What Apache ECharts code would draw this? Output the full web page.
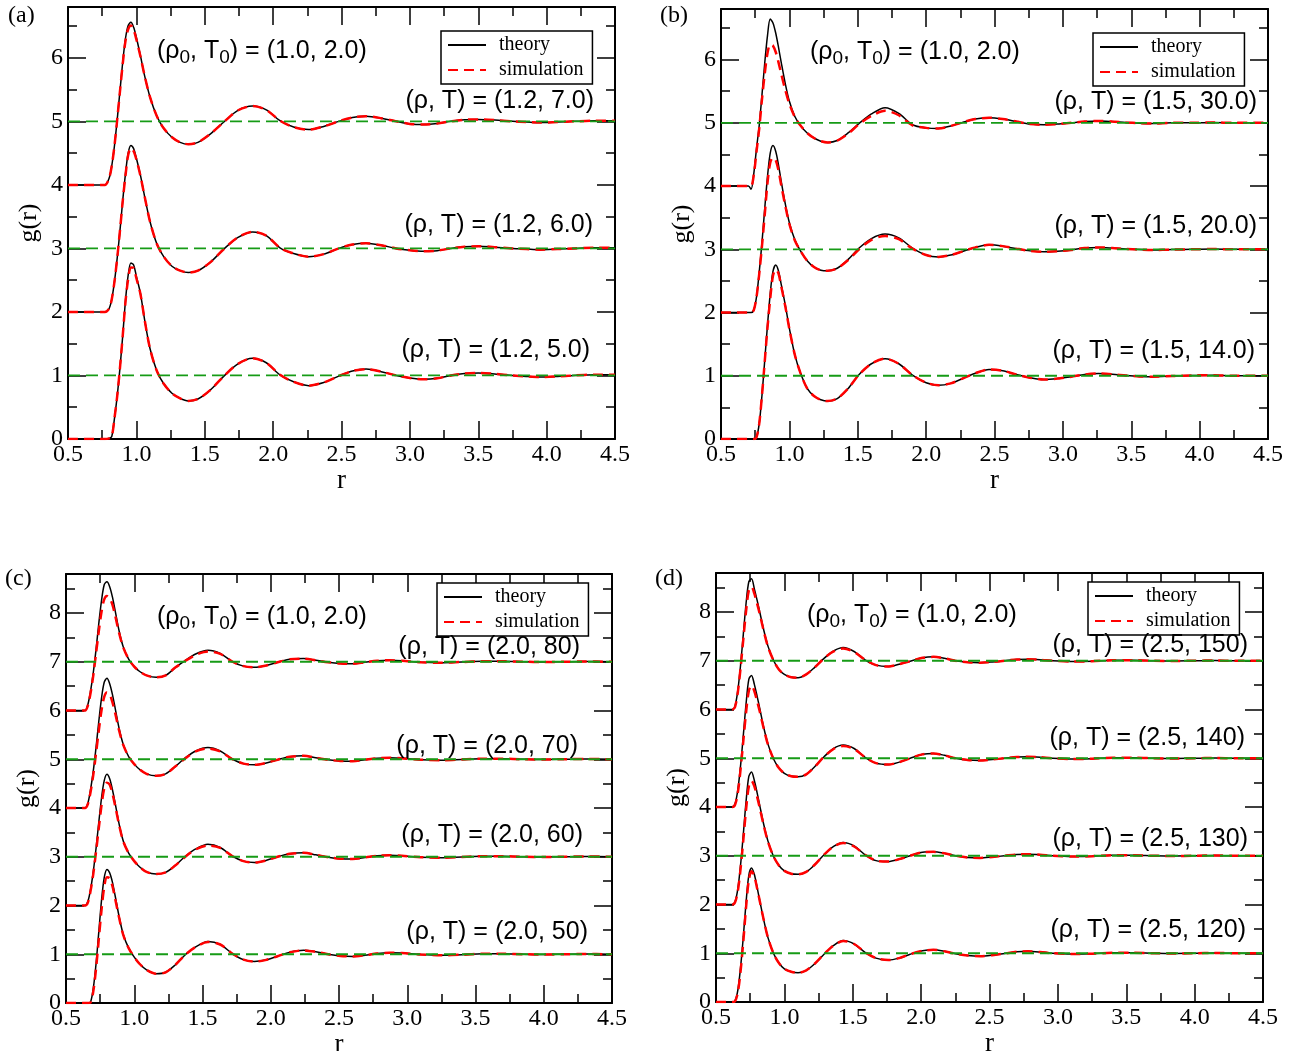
<!DOCTYPE html>
<html>
<head>
<meta charset="utf-8">
<script src="https://cdn.jsdelivr.net/npm/echarts@6/dist/echarts.min.js"></script>
<style>
html, body { margin: 0; padding: 0; background: #fff; }
#chart { width: 1296px; height: 1051px; }
</style>
</head>
<body>
<div id="chart"></div>
<script>
// ---- panel (a): rho = 1.2, T = 5, 6, 7 (curves shifted by 0, 2, 4)
var rA = [0.50, 0.74, 0.77, 0.80, 0.82, 0.84, 0.86, 0.88, 0.90, 0.92,
  0.94, 0.96, 0.98, 1.00, 1.03, 1.06, 1.10, 1.15, 1.20, 1.26,
  1.32, 1.38, 1.45, 1.54, 1.64, 1.74, 1.85, 1.95, 2.05, 2.15,
  2.26, 2.37, 2.48, 2.58, 2.68, 2.79, 2.90, 3.00, 3.10, 3.20,
  3.30, 3.40, 3.50, 3.62, 3.75, 3.85, 3.95, 4.08, 4.20, 4.35, 4.50];
var a5Theory = [0, 0, 0, 0.01, 0.04, 0.33, 0.68, 1.12, 1.62, 2.17,
  2.58, 2.77, 2.74, 2.56, 2.29, 1.88, 1.42, 1.07, 0.87, 0.72,
  0.64, 0.60, 0.63, 0.77, 0.99, 1.18, 1.27, 1.20, 1.01, 0.90,
  0.84, 0.89, 0.99, 1.07, 1.10, 1.06, 1.00, 0.96, 0.94, 0.955,
  1.00, 1.03, 1.04, 1.025, 1.00, 0.985, 0.975, 0.985, 1.00, 1.012, 1.01];
var a5Sim = [0, 0, 0, 0.01, 0.04, 0.33, 0.68, 1.12, 1.62, 2.15,
  2.52, 2.70, 2.69, 2.53, 2.28, 1.88, 1.42, 1.07, 0.87, 0.72,
  0.64, 0.60, 0.63, 0.77, 0.99, 1.18, 1.27, 1.20, 1.01, 0.90,
  0.84, 0.89, 0.99, 1.07, 1.10, 1.06, 1.00, 0.96, 0.94, 0.955,
  1.00, 1.03, 1.04, 1.025, 1.00, 0.985, 0.975, 0.985, 1.00, 1.012, 1.01];
var a6Theory = [2, 2, 2, 2.05, 2.20, 2.48, 2.85, 3.28, 3.75, 4.17,
  4.50, 4.62, 4.57, 4.42, 4.15, 3.82, 3.42, 3.07, 2.87, 2.72,
  2.65, 2.62, 2.65, 2.78, 2.99, 3.17, 3.26, 3.20, 3.01, 2.92,
  2.87, 2.91, 3.00, 3.06, 3.08, 3.05, 3.00, 2.97, 2.955, 2.965,
  3.00, 3.025, 3.035, 3.02, 3.00, 2.99, 2.98, 2.99, 3.00, 3.01, 3.01];
var a6Sim = [2, 2, 2, 2.05, 2.20, 2.48, 2.85, 3.28, 3.74, 4.14,
  4.47, 4.58, 4.53, 4.40, 4.14, 3.82, 3.42, 3.07, 2.87, 2.72,
  2.65, 2.62, 2.65, 2.78, 2.99, 3.17, 3.26, 3.20, 3.01, 2.92,
  2.87, 2.91, 3.00, 3.06, 3.08, 3.05, 3.00, 2.97, 2.955, 2.965,
  3.00, 3.025, 3.035, 3.02, 3.00, 2.99, 2.98, 2.99, 3.00, 3.01, 3.01];
var a7Theory = [4, 4, 4, 4.10, 4.30, 4.62, 5.03, 5.48, 5.93, 6.30,
  6.51, 6.56, 6.48, 6.32, 6.03, 5.72, 5.38, 5.08, 4.89, 4.75,
  4.67, 4.64, 4.67, 4.80, 4.99, 5.17, 5.24, 5.18, 5.01, 4.91,
  4.87, 4.92, 5.00, 5.06, 5.08, 5.05, 5.00, 4.96, 4.95, 4.965,
  5.00, 5.025, 5.03, 5.02, 5.00, 4.99, 4.98, 4.99, 5.00, 5.01, 5.01];
var a7Sim = [4, 4, 4, 4.10, 4.30, 4.62, 5.03, 5.47, 5.90, 6.26,
  6.45, 6.51, 6.44, 6.29, 6.02, 5.72, 5.38, 5.08, 4.89, 4.75,
  4.67, 4.64, 4.67, 4.80, 4.99, 5.17, 5.24, 5.18, 5.01, 4.91,
  4.87, 4.92, 5.00, 5.06, 5.08, 5.05, 5.00, 4.96, 4.95, 4.965,
  5.00, 5.025, 5.03, 5.02, 5.00, 4.99, 4.98, 4.99, 5.00, 5.01, 5.01];

// ---- panel (b): rho = 1.5, T = 14, 20, 30
var rB = [0.50, 0.70, 0.72, 0.74, 0.76, 0.78, 0.80, 0.82, 0.84, 0.86,
  0.88, 0.90, 0.92, 0.94, 0.97, 1.00, 1.04, 1.08, 1.13, 1.18,
  1.23, 1.28, 1.35, 1.43, 1.51, 1.60, 1.70, 1.80, 1.90, 2.00,
  2.09, 2.18, 2.27, 2.36, 2.46, 2.56, 2.66, 2.76, 2.86, 2.96,
  3.06, 3.16, 3.26, 3.36, 3.46, 3.56, 3.66, 3.80, 3.95, 4.10, 4.25, 4.50];
var b14Theory = [0, 0, 0, 0, 0.03, 0.25, 0.70, 1.25, 1.80, 2.30,
  2.65, 2.75, 2.66, 2.45, 2.12, 1.75, 1.33, 1.05, 0.80, 0.68,
  0.62, 0.60, 0.64, 0.80, 1.02, 1.19, 1.27, 1.19, 1.01, 0.89,
  0.85, 0.88, 0.96, 1.04, 1.10, 1.08, 1.02, 0.97, 0.94, 0.955,
  0.985, 1.02, 1.035, 1.025, 1.005, 0.99, 0.985, 0.995, 1.005, 1.01, 1.0, 1.0];
var b14Sim = [0, 0, 0, 0, 0.03, 0.25, 0.70, 1.23, 1.76, 2.22,
  2.58, 2.68, 2.62, 2.42, 2.10, 1.74, 1.33, 1.05, 0.80, 0.68,
  0.62, 0.60, 0.64, 0.80, 1.02, 1.19, 1.27, 1.19, 1.01, 0.89,
  0.85, 0.88, 0.96, 1.04, 1.10, 1.08, 1.02, 0.97, 0.94, 0.955,
  0.985, 1.02, 1.035, 1.025, 1.005, 0.99, 0.985, 0.995, 1.005, 1.01, 1.0, 1.0];
var b20Theory = [2, 2, 2, 2.04, 2.25, 2.65, 3.12, 3.65, 4.15, 4.52,
  4.64, 4.55, 4.34, 4.08, 3.72, 3.42, 3.15, 2.98, 2.82, 2.72,
  2.67, 2.66, 2.70, 2.84, 3.02, 3.17, 3.24, 3.18, 3.02, 2.91,
  2.88, 2.91, 2.97, 3.03, 3.07, 3.05, 3.01, 2.975, 2.96, 2.97,
  2.99, 3.02, 3.03, 3.02, 3.005, 2.995, 2.99, 2.995, 3.0, 3.005, 3.0, 3.0];
var b20Sim = [2, 2, 2, 2.04, 2.25, 2.62, 3.06, 3.55, 4.05, 4.37,
  4.45, 4.41, 4.25, 4.02, 3.69, 3.40, 3.14, 2.98, 2.82, 2.72,
  2.67, 2.66, 2.70, 2.83, 3.00, 3.15, 3.21, 3.16, 3.01, 2.91,
  2.88, 2.91, 2.97, 3.03, 3.07, 3.05, 3.01, 2.975, 2.96, 2.97,
  2.99, 3.02, 3.03, 3.02, 3.005, 2.995, 2.99, 2.995, 3.0, 3.005, 3.0, 3.0];
var b30Theory = [4, 4, 3.95, 4.20, 4.60, 4.97, 5.45, 5.95, 6.38, 6.64,
  6.58, 6.42, 6.20, 5.96, 5.62, 5.34, 5.10, 4.96, 4.84, 4.76,
  4.71, 4.69, 4.72, 4.84, 4.99, 5.14, 5.24, 5.15, 4.97, 4.92,
  4.91, 4.95, 5.01, 5.06, 5.08, 5.06, 5.02, 4.98, 4.97, 4.98,
  5.0, 5.02, 5.03, 5.02, 5.005, 4.995, 4.99, 5.0, 5.0, 5.005, 5.0, 5.0];
var b30Sim = [4, 4, 4.0, 4.18, 4.55, 4.92, 5.38, 5.78, 6.10, 6.24,
  6.22, 6.12, 5.96, 5.78, 5.52, 5.30, 5.09, 4.96, 4.84, 4.76,
  4.71, 4.69, 4.72, 4.83, 4.98, 5.11, 5.19, 5.12, 4.96, 4.92,
  4.91, 4.95, 5.01, 5.06, 5.08, 5.06, 5.02, 4.98, 4.97, 4.98,
  5.0, 5.02, 5.03, 5.02, 5.005, 4.995, 4.99, 5.0, 5.0, 5.005, 5.0, 5.0];

// ---- panel (c): rho = 2.0, T = 50, 60, 70, 80
var rC = [0.50, 0.62, 0.64, 0.66, 0.68, 0.70, 0.72, 0.74, 0.76, 0.78,
  0.80, 0.82, 0.84, 0.86, 0.89, 0.92, 0.96, 1.00, 1.04, 1.09,
  1.16, 1.23, 1.30, 1.37, 1.45, 1.54, 1.63, 1.72, 1.80, 1.88,
  1.96, 2.05, 2.14, 2.24, 2.33, 2.42, 2.51, 2.60, 2.69, 2.78,
  2.87, 2.96, 3.10, 3.25, 3.40, 3.55, 3.70, 3.85, 4.00, 4.15, 4.30, 4.50];
var c50Theory = [0, 0, 0, 0, 0.02, 0.30, 0.80, 1.45, 2.10, 2.57,
  2.74, 2.67, 2.48, 2.20, 1.76, 1.40, 1.12, 0.94, 0.80, 0.68,
  0.60, 0.63, 0.78, 0.98, 1.15, 1.26, 1.20, 1.01, 0.89, 0.85,
  0.88, 0.96, 1.04, 1.08, 1.05, 1.0, 0.965, 0.955, 0.98, 1.015,
  1.03, 1.025, 0.995, 0.98, 0.99, 1.01, 1.01, 1.0, 0.995, 1.0, 1.005, 1.0];
var c50Sim = [0, 0, 0, 0, 0.01, 0.24, 0.70, 1.30, 1.90, 2.38,
  2.58, 2.56, 2.40, 2.14, 1.74, 1.39, 1.12, 0.94, 0.80, 0.68,
  0.60, 0.63, 0.78, 0.98, 1.15, 1.25, 1.20, 1.01, 0.89, 0.85,
  0.88, 0.96, 1.04, 1.08, 1.05, 1.0, 0.965, 0.955, 0.98, 1.015,
  1.03, 1.025, 0.995, 0.98, 0.99, 1.01, 1.01, 1.0, 0.995, 1.0, 1.005, 1.0];
var c60Theory = [2, 2, 2.0, 2.08, 2.33, 2.70, 3.17, 3.70, 4.20, 4.56,
  4.69, 4.60, 4.38, 4.10, 3.66, 3.32, 3.07, 2.91, 2.79, 2.69,
  2.645, 2.68, 2.82, 3.00, 3.16, 3.255, 3.19, 3.01, 2.91, 2.88,
  2.92, 3.0, 3.06, 3.08, 3.04, 2.99, 2.96, 2.955, 2.985, 3.02,
  3.03, 3.02, 2.99, 2.98, 2.995, 3.01, 3.01, 3.0, 2.995, 3.0, 3.005, 3.0];
var c60Sim = [2, 2, 2.0, 2.06, 2.30, 2.65, 3.10, 3.58, 4.05, 4.40,
  4.52, 4.48, 4.30, 4.05, 3.64, 3.31, 3.07, 2.91, 2.79, 2.69,
  2.645, 2.68, 2.82, 2.99, 3.15, 3.23, 3.18, 3.01, 2.91, 2.88,
  2.92, 3.0, 3.06, 3.08, 3.04, 2.99, 2.96, 2.955, 2.985, 3.02,
  3.03, 3.02, 2.99, 2.98, 2.995, 3.01, 3.01, 3.0, 2.995, 3.0, 3.005, 3.0];
var c70Theory = [4, 4, 4.0, 4.10, 4.38, 4.76, 5.24, 5.77, 6.25, 6.58,
  6.66, 6.55, 6.33, 6.05, 5.62, 5.30, 5.05, 4.90, 4.79, 4.70,
  4.66, 4.70, 4.85, 5.02, 5.17, 5.24, 5.17, 5.00, 4.91, 4.885,
  4.92, 4.99, 5.05, 5.07, 5.03, 4.99, 4.965, 4.96, 4.99, 5.02,
  5.03, 5.02, 4.99, 4.98, 4.995, 5.01, 5.01, 5.0, 4.995, 5.0, 5.005, 5.0];
var c70Sim = [4, 4, 4.0, 4.08, 4.33, 4.68, 5.12, 5.58, 6.00, 6.28,
  6.37, 6.33, 6.17, 5.95, 5.58, 5.29, 5.05, 4.90, 4.79, 4.70,
  4.66, 4.70, 4.85, 5.01, 5.16, 5.22, 5.16, 5.00, 4.91, 4.885,
  4.92, 4.99, 5.05, 5.07, 5.03, 4.99, 4.965, 4.96, 4.99, 5.02,
  5.03, 5.02, 4.99, 4.98, 4.995, 5.01, 5.01, 5.0, 4.995, 5.0, 5.005, 5.0];
var c80Theory = [6, 6, 6.0, 6.12, 6.40, 6.78, 7.25, 7.78, 8.25, 8.58,
  8.64, 8.54, 8.33, 8.05, 7.62, 7.30, 7.05, 6.90, 6.80, 6.72,
  6.68, 6.72, 6.88, 7.02, 7.16, 7.235, 7.17, 7.0, 6.91, 6.885,
  6.92, 6.99, 7.05, 7.065, 7.03, 6.99, 6.965, 6.96, 6.99, 7.02,
  7.03, 7.02, 6.99, 6.98, 6.995, 7.01, 7.01, 7.0, 6.995, 7.0, 7.005, 7.0];
var c80Sim = [6, 6, 6.0, 6.10, 6.36, 6.72, 7.17, 7.62, 8.02, 8.28,
  8.35, 8.31, 8.17, 7.95, 7.58, 7.29, 7.05, 6.90, 6.80, 6.72,
  6.68, 6.72, 6.88, 7.01, 7.14, 7.21, 7.16, 7.0, 6.91, 6.885,
  6.92, 6.99, 7.05, 7.065, 7.03, 6.99, 6.965, 6.96, 6.99, 7.02,
  7.03, 7.02, 6.99, 6.98, 6.995, 7.01, 7.01, 7.0, 6.995, 7.0, 7.005, 7.0];

// ---- panel (d): rho = 2.5, T = 120, 130, 140, 150
var rD = [0.50, 0.60, 0.62, 0.64, 0.66, 0.68, 0.70, 0.72, 0.74, 0.76,
  0.78, 0.80, 0.82, 0.85, 0.88, 0.92, 0.96, 1.00, 1.05, 1.10,
  1.16, 1.22, 1.29, 1.36, 1.43, 1.51, 1.59, 1.67, 1.76, 1.84,
  1.92, 2.01, 2.09, 2.17, 2.25, 2.34, 2.43, 2.52, 2.61, 2.70,
  2.78, 2.87, 2.96, 3.10, 3.25, 3.40, 3.55, 3.70, 3.85, 4.00, 4.15, 4.30, 4.50];
var d120Theory = [0, 0, 0, 0.03, 0.25, 0.72, 1.35, 2.05, 2.60, 2.75,
  2.62, 2.36, 2.08, 1.67, 1.32, 1.0, 0.80, 0.68, 0.62, 0.60,
  0.65, 0.78, 0.98, 1.16, 1.26, 1.19, 1.02, 0.90, 0.86, 0.90,
  0.98, 1.05, 1.07, 1.04, 0.99, 0.955, 0.94, 0.96, 0.995, 1.03,
  1.04, 1.025, 1.0, 0.985, 0.99, 1.01, 1.01, 1.0, 0.995, 1.0, 1.005, 1.0, 1.0];
var d120Sim = [0, 0, 0, 0.02, 0.20, 0.64, 1.25, 1.95, 2.50, 2.68,
  2.58, 2.34, 2.07, 1.67, 1.32, 1.0, 0.80, 0.68, 0.62, 0.60,
  0.65, 0.78, 0.98, 1.16, 1.25, 1.19, 1.02, 0.90, 0.86, 0.90,
  0.98, 1.05, 1.07, 1.04, 0.99, 0.955, 0.94, 0.96, 0.995, 1.03,
  1.04, 1.025, 1.0, 0.985, 0.99, 1.01, 1.01, 1.0, 0.995, 1.0, 1.005, 1.0, 1.0];
var d130Theory = [2, 2, 2.0, 2.06, 2.33, 2.82, 3.45, 4.12, 4.63, 4.72,
  4.55, 4.30, 4.03, 3.63, 3.30, 2.99, 2.80, 2.69, 2.63, 2.62,
  2.67, 2.81, 3.02, 3.19, 3.27, 3.20, 3.02, 2.90, 2.88, 2.93,
  3.0, 3.07, 3.08, 3.05, 3.0, 2.965, 2.955, 2.975, 3.0, 3.025,
  3.03, 3.02, 3.0, 2.985, 2.99, 3.01, 3.01, 3.0, 2.995, 3.0, 3.005, 3.0, 3.0];
var d130Sim = [2, 2, 2.0, 2.05, 2.28, 2.74, 3.33, 3.95, 4.42, 4.54,
  4.43, 4.22, 3.98, 3.61, 3.29, 2.99, 2.80, 2.69, 2.63, 2.62,
  2.67, 2.81, 3.02, 3.19, 3.26, 3.19, 3.02, 2.90, 2.88, 2.93,
  3.0, 3.07, 3.08, 3.05, 3.0, 2.965, 2.955, 2.975, 3.0, 3.025,
  3.03, 3.02, 3.0, 2.985, 2.99, 3.01, 3.01, 3.0, 2.995, 3.0, 3.005, 3.0, 3.0];
var d140Theory = [4, 4, 4.0, 4.07, 4.36, 4.86, 5.48, 6.12, 6.62, 6.70,
  6.52, 6.28, 6.02, 5.62, 5.29, 4.99, 4.80, 4.69, 4.63, 4.62,
  4.67, 4.82, 5.03, 5.20, 5.27, 5.20, 5.02, 4.90, 4.87, 4.92,
  5.0, 5.08, 5.10, 5.06, 5.0, 4.965, 4.955, 4.975, 5.0, 5.025,
  5.03, 5.02, 5.0, 4.985, 4.99, 5.01, 5.01, 5.0, 4.995, 5.0, 5.005, 5.0, 5.0];
var d140Sim = [4, 4, 4.0, 4.05, 4.30, 4.78, 5.36, 5.94, 6.38, 6.49,
  6.38, 6.18, 5.96, 5.60, 5.28, 4.99, 4.80, 4.69, 4.63, 4.62,
  4.67, 4.82, 5.03, 5.19, 5.25, 5.19, 5.02, 4.90, 4.87, 4.92,
  5.0, 5.08, 5.10, 5.06, 5.0, 4.965, 4.955, 4.975, 5.0, 5.025,
  5.03, 5.02, 5.0, 4.985, 4.99, 5.01, 5.01, 5.0, 4.995, 5.0, 5.005, 5.0, 5.0];
var d150Theory = [6, 6, 6.0, 6.08, 6.40, 6.92, 7.55, 8.18, 8.62, 8.68,
  8.48, 8.25, 8.00, 7.62, 7.30, 7.01, 6.82, 6.72, 6.66, 6.65,
  6.72, 6.86, 7.05, 7.20, 7.27, 7.19, 7.02, 6.91, 6.88, 6.93,
  6.99, 7.06, 7.08, 7.05, 7.0, 6.97, 6.96, 6.975, 7.0, 7.025,
  7.03, 7.02, 7.0, 6.985, 6.99, 7.01, 7.01, 7.0, 6.995, 7.0, 7.005, 7.0, 7.0];
var d150Sim = [6, 6, 6.0, 6.06, 6.36, 6.86, 7.45, 8.02, 8.44, 8.52,
  8.38, 8.18, 7.96, 7.60, 7.29, 7.01, 6.82, 6.72, 6.66, 6.65,
  6.72, 6.86, 7.05, 7.19, 7.25, 7.18, 7.02, 6.91, 6.88, 6.93,
  6.99, 7.06, 7.08, 7.05, 7.0, 6.97, 6.96, 6.975, 7.0, 7.025,
  7.03, 7.02, 7.0, 6.985, 6.99, 7.01, 7.01, 7.0, 6.995, 7.0, 7.005, 7.0, 7.0];

// reference levels g = 1 for each shifted curve
var levelsAB = [1, 3, 5];
var levelsCD = [1, 3, 5, 7];
var yMaxAB = 6.8;
var yMaxCD = 8.8;

var stateLabelsA = ['(ρ, T) = (1.2, 7.0)', '(ρ, T) = (1.2, 6.0)', '(ρ, T) = (1.2, 5.0)'];
var stateLabelsB = ['(ρ, T) = (1.5, 30.0)', '(ρ, T) = (1.5, 20.0)', '(ρ, T) = (1.5, 14.0)'];
var stateLabelsC = ['(ρ, T) = (2.0, 80)', '(ρ, T) = (2.0, 70)', '(ρ, T) = (2.0, 60)', '(ρ, T) = (2.0, 50)'];
var stateLabelsD = ['(ρ, T) = (2.5, 150)', '(ρ, T) = (2.5, 140)', '(ρ, T) = (2.5, 130)', '(ρ, T) = (2.5, 120)'];
var panelLetters = ['(a)', '(b)', '(c)', '(d)'];

var SERIF = 'Liberation Serif';
var SANS = 'Liberation Sans';

var panels = [
  { grid: {left: 68, top: 7, width: 547, height: 432}, yMax: yMaxAB, r: rA, levels: levelsAB,
    curves: [[a5Theory, a5Sim], [a6Theory, a6Sim], [a7Theory, a7Sim]],
    labels: stateLabelsA, labelPos: [[594, 101], [593, 225], [590, 350]],
    refPos: [157, 51], legendPos: [441, 31], letterPos: [8, 16] },
  { grid: {left: 721, top: 9, width: 547, height: 430}, yMax: yMaxAB, r: rB, levels: levelsAB,
    curves: [[b14Theory, b14Sim], [b20Theory, b20Sim], [b30Theory, b30Sim]],
    labels: stateLabelsB, labelPos: [[1257, 102], [1257, 226], [1255, 351]],
    refPos: [810, 52], legendPos: [1093, 33], letterPos: [660, 16] },
  { grid: {left: 66, top: 574, width: 546, height: 429}, yMax: yMaxCD, r: rC, levels: levelsCD,
    curves: [[c50Theory, c50Sim], [c60Theory, c60Sim], [c70Theory, c70Sim], [c80Theory, c80Sim]],
    labels: stateLabelsC, labelPos: [[580, 647], [578, 746], [583, 835], [588, 932]],
    refPos: [157, 617], legendPos: [437, 583], letterPos: [5, 579] },
  { grid: {left: 716, top: 573, width: 547, height: 429}, yMax: yMaxCD, r: rD, levels: levelsCD,
    curves: [[d120Theory, d120Sim], [d130Theory, d130Sim], [d140Theory, d140Sim], [d150Theory, d150Sim]],
    labels: stateLabelsD, labelPos: [[1248, 645], [1245, 738], [1248, 839], [1246, 930]],
    refPos: [807, 615], legendPos: [1088, 582], letterPos: [655, 579] }
];

var tickLine = {color: '#000', width: 1.5};

function makeXAxis(gi, top) {
  return {
    type: 'value', gridIndex: gi, position: top ? 'top' : 'bottom',
    min: 0.5, max: 4.5, interval: 0.5,
    name: top ? '' : 'r', nameLocation: 'middle', nameGap: 13,
    nameTextStyle: {fontFamily: SERIF, fontSize: 27, color: '#000'},
    axisLine: {onZero: false, lineStyle: {color: '#000', width: 2}},
    axisTick: {inside: true, length: 18, lineStyle: tickLine},
    minorTick: {show: true, splitNumber: 2, length: 9, lineStyle: tickLine},
    splitLine: {show: false}, minorSplitLine: {show: false},
    axisLabel: {show: !top, margin: 4, fontFamily: SERIF, fontSize: 24, color: '#000',
      formatter: function (v) { return v.toFixed(1); }}
  };
}

function makeYAxis(gi, right, yMax) {
  return {
    type: 'value', gridIndex: gi, position: right ? 'right' : 'left',
    min: 0, max: yMax, interval: 1,
    name: right ? '' : 'g(r)', nameLocation: 'middle', nameGap: 26,
    nameTextStyle: {fontFamily: SERIF, fontSize: 26, color: '#000'},
    axisLine: {onZero: false, lineStyle: {color: '#000', width: 2}},
    axisTick: {inside: true, length: 18, lineStyle: tickLine},
    minorTick: {show: true, splitNumber: 2, length: 9, lineStyle: tickLine},
    splitLine: {show: false}, minorSplitLine: {show: false},
    axisLabel: {show: !right, margin: 5, showMaxLabel: false, fontFamily: SERIF, fontSize: 24, color: '#000'}
  };
}

var grids = [], xAxes = [], yAxes = [], series = [], legends = [], graphics = [];

panels.forEach(function (p, gi) {
  grids.push(Object.assign({outerBoundsMode: 'none', containLabel: false}, p.grid));
  xAxes.push(makeXAxis(gi, false), makeXAxis(gi, true));
  yAxes.push(makeYAxis(gi, false, p.yMax), makeYAxis(gi, true, p.yMax));

  p.curves.forEach(function (pair) {
    series.push({
      type: 'line', name: 'theory', xAxisIndex: gi * 2, yAxisIndex: gi * 2,
      data: p.r.map(function (x, k) { return [x, pair[0][k]]; }),
      symbol: 'none', smooth: 0.3, silent: true, z: 2,
      lineStyle: {color: '#000', width: 1.5}, itemStyle: {color: '#000'}
    });
    series.push({
      type: 'line', name: 'simulation', xAxisIndex: gi * 2, yAxisIndex: gi * 2,
      data: p.r.map(function (x, k) { return [x, pair[1][k]]; }),
      symbol: 'none', smooth: 0.3, silent: true, z: 3,
      lineStyle: {color: '#ff0000', width: 2.5, type: [10, 6]}, itemStyle: {color: '#ff0000'}
    });
  });

  p.levels.forEach(function (lv) {
    series.push({
      type: 'line', xAxisIndex: gi * 2, yAxisIndex: gi * 2,
      data: [[0.5, lv], [4.5, lv]],
      symbol: 'none', silent: true, z: 4,
      lineStyle: {color: '#169b16', width: 1.8, type: [12, 6]}
    });
  });

  legends.push({
    left: p.legendPos[0], top: p.legendPos[1], orient: 'vertical',
    data: ['theory', 'simulation'], selectedMode: false,
    backgroundColor: '#fff', borderColor: '#000', borderWidth: 1.5, borderRadius: 0,
    padding: [4, 9, 4, 6], itemWidth: 38, itemHeight: 14, itemGap: 5,
    itemStyle: {opacity: 0},
    textStyle: {fontFamily: SERIF, fontSize: 20, color: '#000', padding: [0, 0, 0, 8]}
  });

  p.labels.forEach(function (txt, k) {
    graphics.push({
      type: 'text', x: p.labelPos[k][0], y: p.labelPos[k][1], z: 10,
      style: {text: txt, fontFamily: SANS, fontSize: 25, fill: '#000', align: 'right', verticalAlign: 'middle'}
    });
  });

  graphics.push({
    type: 'text', x: p.refPos[0], y: p.refPos[1], z: 10,
    style: {
      text: '{a|(ρ}{s|0}{a|, T}{s|0}{a|) = (1.0, 2.0)}',
      align: 'left', verticalAlign: 'middle', fill: '#000',
      rich: {
        a: {fontFamily: SANS, fontSize: 25, lineHeight: 32, fill: '#000'},
        s: {fontFamily: SANS, fontSize: 19, lineHeight: 19, verticalAlign: 'bottom', fill: '#000'}
      }
    }
  });

  graphics.push({
    type: 'text', x: p.letterPos[0], y: p.letterPos[1], z: 10,
    style: {text: panelLetters[gi], fontFamily: SERIF, fontSize: 24, fill: '#000', align: 'left', verticalAlign: 'middle'}
  });
});

var chart = echarts.init(document.getElementById('chart'), null, {renderer: 'canvas'});
chart.setOption({
  animation: false,
  backgroundColor: '#fff',
  grid: grids,
  xAxis: xAxes,
  yAxis: yAxes,
  legend: legends,
  series: series,
  graphic: graphics
});
</script>
</body>
</html>
